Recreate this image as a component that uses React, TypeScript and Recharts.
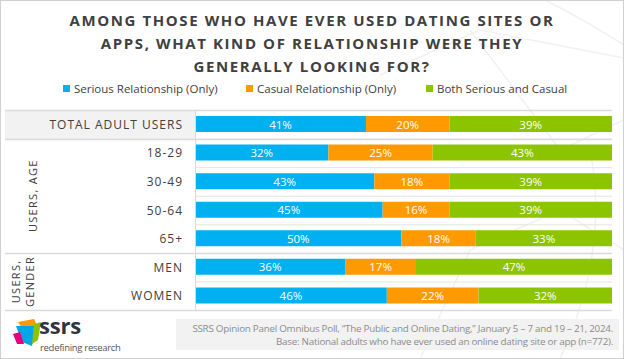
import { Bar, BarChart, XAxis, YAxis } from "recharts";

const categories = ["TOTAL ADULT USERS", "18-29", "30-49", "50-64", "65+", "MEN", "WOMEN"];
const seriousOnly = [41, 32, 43, 45, 50, 36, 46];
const casualOnly = [20, 25, 18, 16, 18, 17, 22];
const bothKinds = [39, 43, 39, 39, 33, 47, 32];

const seriesNames = ["Serious Relationship (Only)", "Casual Relationship (Only)", "Both Serious and Casual"];
const seriesColors = ["#00b0f0", "#ff9900", "#8dc400"];
const seriesKeys = ["serious", "casual", "both"] as const;

const titleLines = [
  "AMONG THOSE WHO HAVE EVER USED DATING SITES OR",
  "APPS, WHAT KIND OF RELATIONSHIP WERE THEY",
  "GENERALLY LOOKING FOR?",
];

const sourceLines = [
  "SSRS Opinion Panel Omnibus Poll, \u201cThe Public and Online Dating,\u201d January 5 \u2013 7 and 19 \u2013 21, 2024.",
  "Base: National adults who have ever used an online dating site or app (n=772).",
];

const data = categories.map((label, i) => ({
  label,
  serious: seriousOnly[i],
  casual: casualOnly[i],
  both: bothKinds[i],
}));

const W = 624;
const H = 359;
const PLOT_TOP = 110;
const PLOT_BOTTOM = 310;
const PLOT_LEFT = 195;
const PLOT_RIGHT = 612;
const FONT = '"Open Sans", "Noto Sans", sans-serif';
const TEXT = "#404040";

const CategoryTick = (props: any) => {
  const { y, payload } = props;
  return (
    <text
      x={183}
      y={y}
      textAnchor="end"
      dominantBaseline="central"
      fill={TEXT}
      fontSize={12}
      letterSpacing={1}
      fontFamily={FONT}
    >
      {payload.value}
    </text>
  );
};

const makeLabel = (key: (typeof seriesKeys)[number]) => (props: any) => {
  const { x, y, width, height, index } = props;
  const v = data[index]?.[key];
  return (
    <text
      x={x + width / 2}
      y={y + height / 2}
      textAnchor="middle"
      dominantBaseline="central"
      fill="#ffffff"
      fontSize={11.5}
      fontFamily={FONT}
    >
      {v}%
    </text>
  );
};

const rowH = (PLOT_BOTTOM - PLOT_TOP) / categories.length;

const Logo = () => (
  <svg width={130} height={56} style={{ position: "absolute", left: 8, top: 304 }}>
    <polygon points="10,18 26,15 30,24 14,24" fill="#ff9900" />
    <polygon points="8,22 28,22 24,42 14,38" fill="#00a6e6" />
    <polygon points="26,20 33,18 30,36 24,40" fill="#8dc400" />
    <polygon points="5,30 12,28 16,40 9,40" fill="#e6007e" />
    <text x={31} y={30} fontSize={22} fontWeight={700} fill="#2e3440" fontFamily={FONT} letterSpacing={-0.2}>
      ssrs
    </text>
    <text x={32} y={47} fontSize={9.5} fill="#555" fontFamily={FONT} letterSpacing={-0.3}>
      redefining research
    </text>
  </svg>
);

export default function App() {
  return (
    <div
      style={{
        position: "fixed",
        left: 0,
        top: 0,
        width: W,
        height: H,
        background: "#ffffff",
        overflow: "hidden",
        fontFamily: FONT,
      }}
    >
      {/* faint watermark strokes */}
      <svg width={W} height={H} style={{ position: "absolute", left: 0, top: 0 }}>
        <g fill="none" stroke="#f1f1f1" strokeWidth={1.5}>
          <polyline points="380,75 480,30 624,58" />
          <path d="M545,0 Q585,20 624,45" />
          <polyline points="470,30 560,150 624,120" />
          <polyline points="420,359 470,250 560,210 624,250" />
          <path d="M590,150 Q610,250 560,359" />
        </g>
      </svg>

      {/* total row shading and footer box */}
      <div style={{ position: "absolute", left: 5, top: PLOT_TOP, width: PLOT_LEFT - 5, height: rowH, background: "#f2f2f2" }} />
      <div style={{ position: "absolute", left: 176, top: 319, width: 443, height: 31, background: "#f2f2f2" }} />

      {titleLines.map((t, i) => (
        <div
          key={t}
          style={{
            position: "absolute",
            left: 0,
            width: W,
            top: 10 + i * 23,
            textAlign: "center",
            fontSize: 15,
            fontWeight: 700,
            letterSpacing: 1.6,
            color: TEXT,
            lineHeight: "20px",
          }}
        >
          {t}
        </div>
      ))}

      <div style={{ position: "absolute", top: 81, left: 0, width: W, height: 16 }}>
        {seriesNames.map((n, i) => (
          <div
            key={n}
            style={{
              position: "absolute",
              left: [63, 246, 426][i],
              top: 0,
              display: "flex",
              alignItems: "center",
              fontSize: 11.5,
              color: TEXT,
              whiteSpace: "nowrap",
            }}
          >
            <span style={{ width: 7, height: 7, background: seriesColors[i], marginRight: 4, display: "inline-block" }} />
            {n}
          </div>
        ))}
      </div>

      <div style={{ position: "absolute", left: 0, top: 0 }}>
        <BarChart
          width={W}
          height={H}
          data={data}
          layout="vertical"
          stackOffset="expand"
          barCategoryGap={0}
          margin={{ top: PLOT_TOP, bottom: H - PLOT_BOTTOM, left: 0, right: W - PLOT_RIGHT }}
        >
          <XAxis type="number" hide domain={[0, 1]} />
          <YAxis
            type="category"
            dataKey="label"
            width={PLOT_LEFT}
            axisLine={false}
            tickLine={false}
            tick={<CategoryTick />}
            interval={0}
          />
          {seriesKeys.map((k, i) => (
            <Bar
              key={k}
              dataKey={k}
              name={seriesNames[i]}
              stackId="a"
              fill={seriesColors[i]}
              barSize={16}
              isAnimationActive={false}
              label={makeLabel(k)}
            />
          ))}
        </BarChart>
      </div>

      <svg width={W} height={H} style={{ position: "absolute", left: 0, top: 0, pointerEvents: "none" }}>
        {categories.map((_, i) =>
          i === 0 ? null : (
            <line
              key={i}
              x1={PLOT_LEFT}
              x2={PLOT_RIGHT}
              y1={PLOT_TOP + rowH * i + 0.5}
              y2={PLOT_TOP + rowH * i + 0.5}
              stroke="#e3e3e3"
              strokeWidth={1}
            />
          )
        )}
        {[PLOT_TOP, PLOT_TOP + rowH, PLOT_TOP + rowH * 5, PLOT_BOTTOM].map((y, i) => (
          <line key={i} x1={5} x2={PLOT_RIGHT} y1={Math.round(y) + 0.5} y2={Math.round(y) + 0.5} stroke="#dadada" strokeWidth={1.5} />
        ))}
        <line x1={PLOT_LEFT + 0.5} x2={PLOT_LEFT + 0.5} y1={PLOT_TOP} y2={PLOT_BOTTOM} stroke="#dadada" strokeWidth={1} />
        <text
          transform={`translate(32, ${PLOT_TOP + rowH * 3}) rotate(-90)`}
          textAnchor="middle"
          dominantBaseline="central"
          fontSize={11}
          letterSpacing={1.3}
          fill={TEXT}
          fontFamily={FONT}
        >
          USERS, AGE
        </text>
        <text
          transform={`translate(15, ${PLOT_TOP + rowH * 6}) rotate(-90)`}
          textAnchor="middle"
          dominantBaseline="central"
          fontSize={11}
          letterSpacing={1.3}
          fill={TEXT}
          fontFamily={FONT}
        >
          USERS,
        </text>
        <text
          transform={`translate(29, ${PLOT_TOP + rowH * 6}) rotate(-90)`}
          textAnchor="middle"
          dominantBaseline="central"
          fontSize={11}
          letterSpacing={1.3}
          fill={TEXT}
          fontFamily={FONT}
        >
          GENDER
        </text>
        {sourceLines.map((s, i) => (
          <text key={s} x={613} y={332 + i * 13} textAnchor="end" fontSize={9.8} fill="#8c8c8c" fontFamily={FONT} letterSpacing={-0.25}>
            {s}
          </text>
        ))}
      </svg>

      <Logo />
      <div style={{ position: "absolute", inset: 0, border: "1px solid #d0d0d0", pointerEvents: "none" }} />
    </div>
  );
}
